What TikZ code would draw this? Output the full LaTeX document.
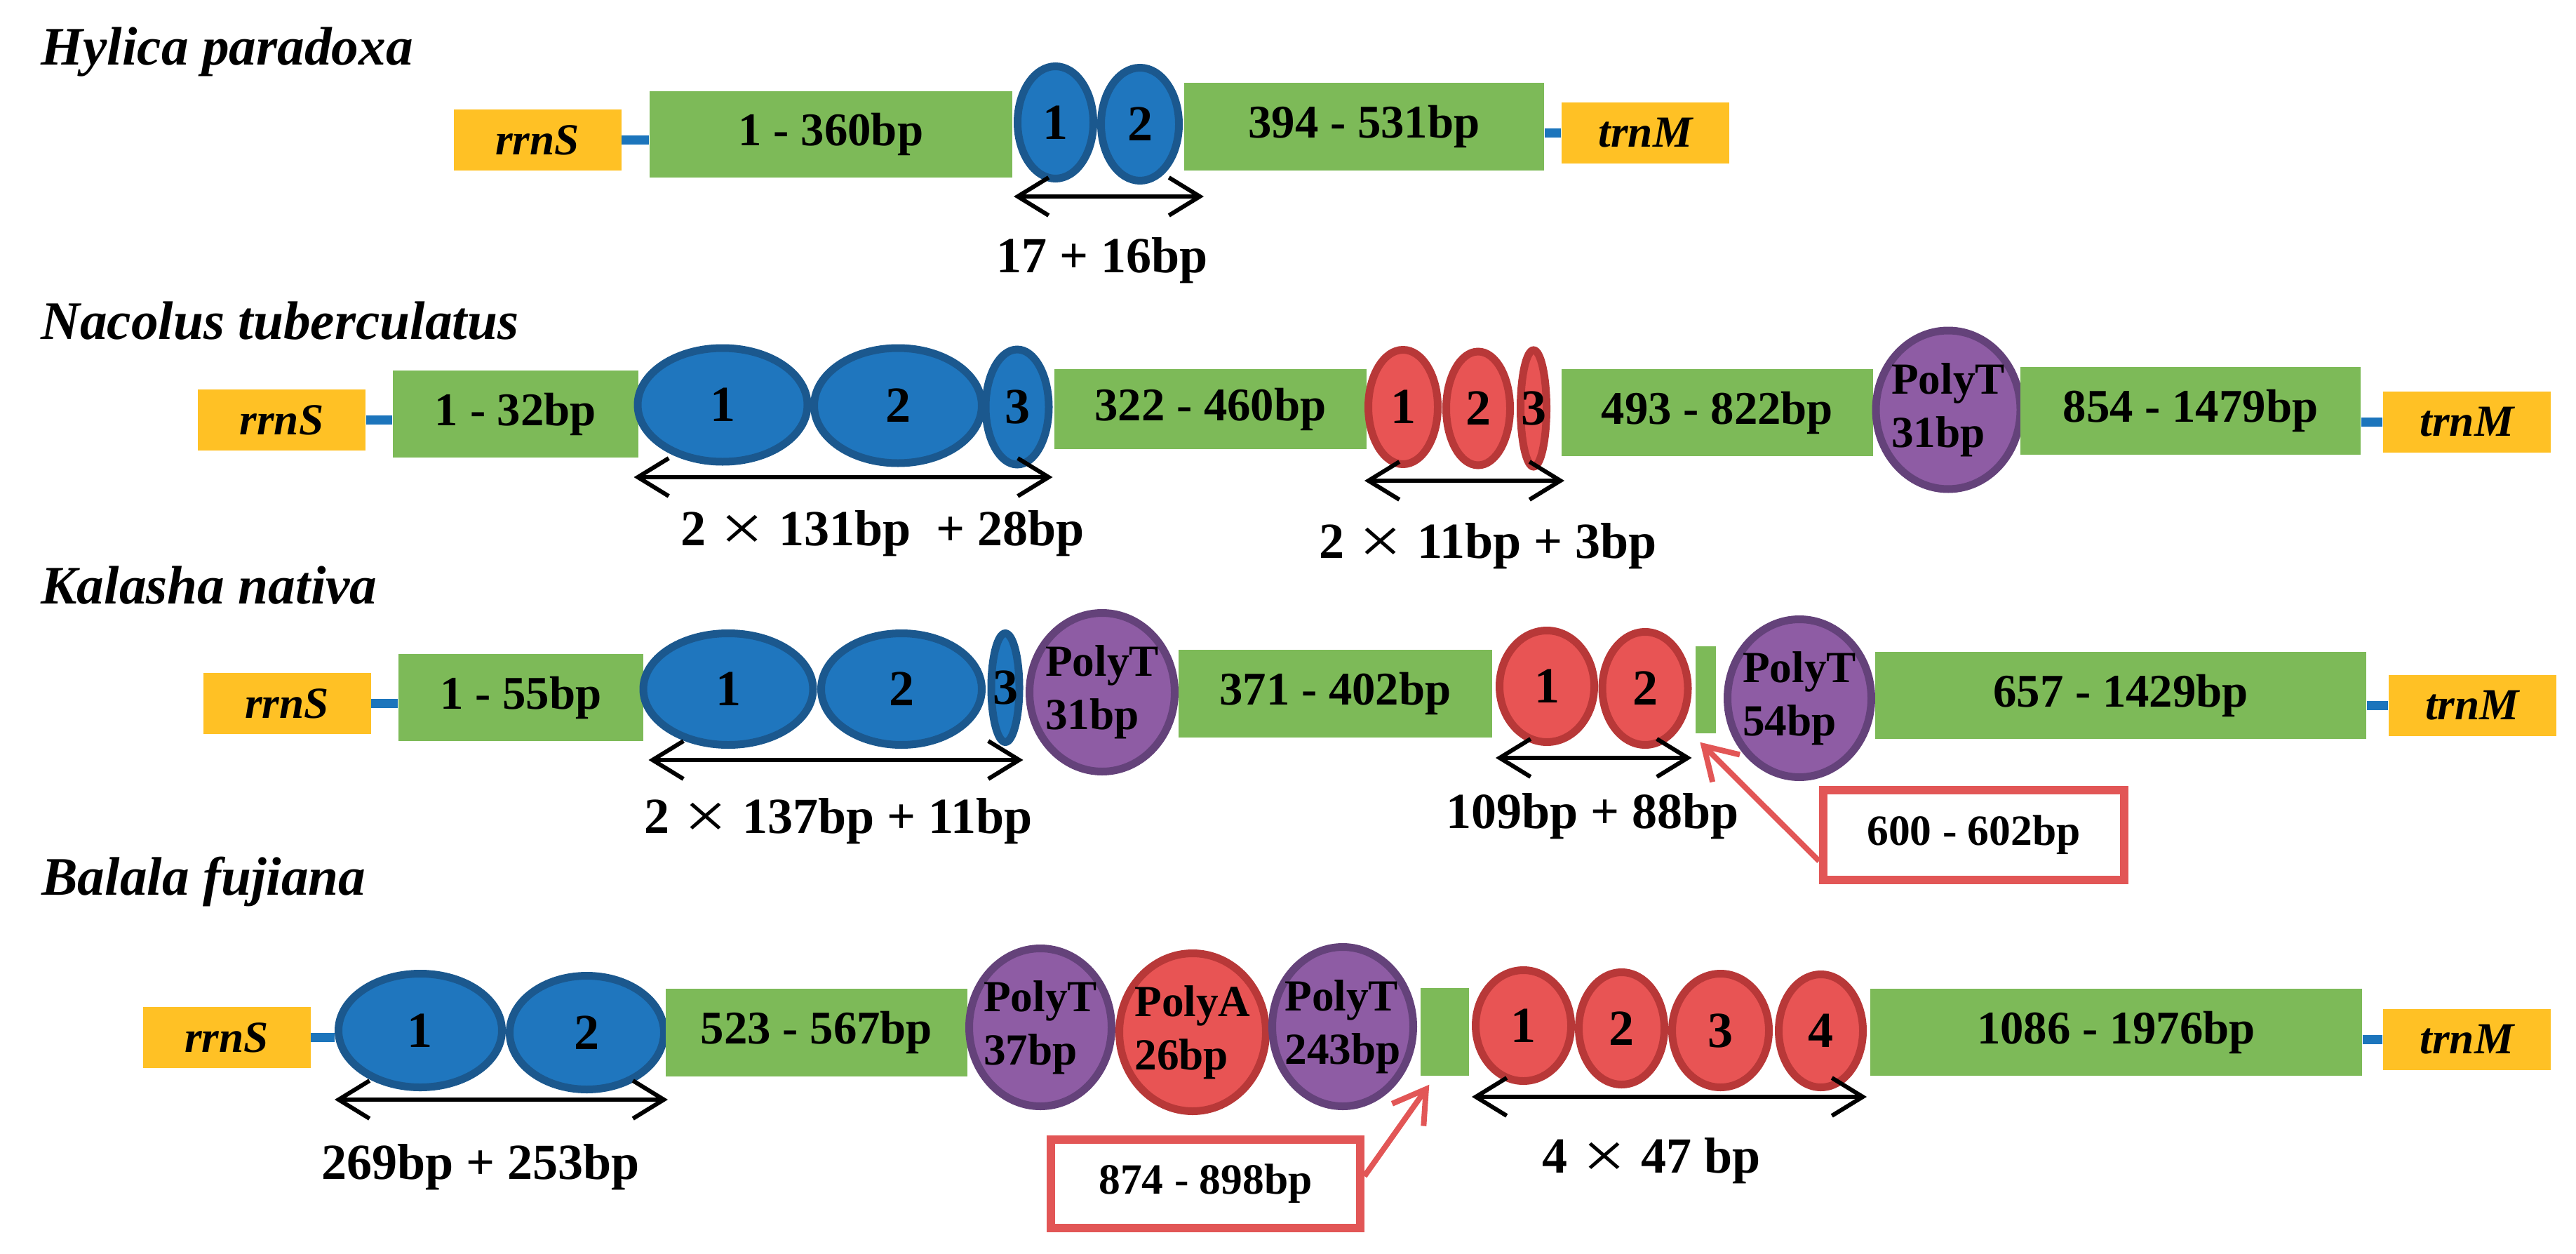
\documentclass[tikz,border=0pt]{standalone}
\usepackage{graphicx}
\usepackage{fontspec}
\setmainfont{Liberation Serif}
\usetikzlibrary{shapes.geometric,arrows.meta}

\definecolor{segGreen}{RGB}{125,186,88}
\definecolor{geneGold}{RGB}{255,193,37}
\definecolor{linkBlue}{RGB}{28,117,188}
\definecolor{repBlue}{RGB}{31,118,190}
\definecolor{repBlueDark}{RGB}{27,88,142}
\definecolor{repRed}{RGB}{232,84,84}
\definecolor{repRedDark}{RGB}{184,56,56}
\definecolor{repPurple}{RGB}{142,92,164}
\definecolor{repPurpleDark}{RGB}{100,66,122}
\definecolor{callRed}{RGB}{226,86,86}

\newcommand{\bytimes}{\hspace{0.3em}{\mdseries\raisebox{-0.1em}{\scalebox{1.5}[1.3]{×}}}\hspace{0.3em}}

\begin{document}
\begin{tikzpicture}[x=1cm, y=-1cm,
  species/.style={anchor=base west, font=\fontsize{22}{26}\selectfont\bfseries\itshape},
  gene/.style={rectangle, fill=geneGold, inner sep=0pt, minimum width=2.39cm, minimum height=0.87cm, font=\fontsize{18}{21}\selectfont\bfseries\itshape},
  seg/.style={rectangle, fill=segGreen, inner sep=0pt, font=\fontsize{19}{22}\selectfont\bfseries},
  rep/.style={ellipse, inner xsep=-6mm, inner ysep=0pt, line width=1.1mm, font=\fontsize{20.5}{24}\selectfont\bfseries},
  blue rep/.style={rep, fill=repBlue, draw=repBlueDark},
  red rep/.style={rep, fill=repRed, draw=repRedDark},
  poly/.style={rep, fill=repPurple, draw=repPurpleDark, align=left, font=\fontsize{18}{21.5}\selectfont\bfseries},
  link/.style={draw=linkBlue, line width=1.3mm},
  span/.style={{Straight Barb[length=4.4mm,width=5.4mm]}-{Straight Barb[length=4.4mm,width=5.4mm]}, line width=0.6mm},
  lab/.style={anchor=base, font=\fontsize{20.5}{24}\selectfont\bfseries},
  callout/.style={rectangle, draw=callRed, fill=white, line width=1.2mm, inner sep=0pt, font=\fontsize{17.5}{21}\selectfont\bfseries},
  pointer/.style={draw=callRed, line width=0.8mm, -{Straight Barb[length=4.5mm,width=5.5mm]}}]
  \useasboundingbox (0,0) rectangle (36.72,17.87);

  % Hylica paradoxa
  \node[species] (sp1) at (0.46,0.93) {Hylica paradoxa};
  \node[gene] (s1) at (7.66,1.995) {rrnS};
  \node[seg, minimum width=5.17cm, minimum height=1.23cm] (g11) at (11.845,1.915) {1 - 360bp};
  \node[blue rep, minimum width=1.08cm, minimum height=1.60cm] (b11) at (15.045,1.745) {1};
  \node[blue rep, minimum width=1.11cm, minimum height=1.61cm] (b12) at (16.25,1.77) {2};
  \node[seg, minimum width=5.13cm, minimum height=1.25cm] (g12) at (19.445,1.805) {394 - 531bp};
  \node[gene] (m1) at (23.455,1.895) {trnM};
  \draw[link] (s1.east) -- (s1.east -| g11.west);
  \draw[link] (g12.east |- m1.west) -- (m1.west);
  \draw[span, shorten >=-3mm] (b11.west |- 0,2.80) -- (b12.east |- 0,2.80);
  \node[lab] (l1) at (15.71,3.88) {17 + 16bp};

  % Nacolus tuberculatus
  \node[species] (sp2) at (0.46,4.83) {Nacolus tuberculatus};
  \node[gene] (s2) at (4.015,5.985) {rrnS};
  \node[seg, minimum width=3.50cm, minimum height=1.24cm] (g21) at (7.35,5.90) {1 - 32bp};
  \node[blue rep, minimum width=2.42cm, minimum height=1.62cm] (b21) at (10.30,5.77) {1};
  \node[blue rep, minimum width=2.39cm, minimum height=1.64cm] (b22) at (12.80,5.78) {2};
  \node[blue rep, minimum width=0.90cm, minimum height=1.64cm] (b23) at (14.50,5.80) {3};
  \node[seg, minimum width=4.45cm, minimum height=1.14cm] (g22) at (17.255,5.83) {322 - 460bp};
  \node[red rep, minimum width=0.99cm, minimum height=1.63cm] (r21) at (20.00,5.80) {1};
  \node[red rep, minimum width=0.91cm, minimum height=1.62cm] (r22) at (21.07,5.82) {2};
  \node[red rep, minimum width=0.37cm, minimum height=1.66cm] (r23) at (21.86,5.82) {3};
  \node[seg, minimum width=4.44cm, minimum height=1.24cm] (g23) at (24.48,5.88) {493 - 822bp};
  \node[poly, minimum width=2.06cm, minimum height=2.26cm] (p21) at (27.77,5.84) {PolyT\\31bp};
  \node[seg, minimum width=4.85cm, minimum height=1.25cm] (g24) at (31.225,5.855) {854 - 1479bp};
  \node[gene] (m2) at (35.165,6.01) {trnM};
  \draw[link] (s2.east) -- (s2.east -| g21.west);
  \draw[link] (g24.east |- m2.west) -- (m2.west);
  \draw[span] (b21.west |- 0,6.80) -- (b23.east |- 0,6.80);
  \draw[span, shorten >=-2mm] (r21.west |- 0,6.85) -- (r23.east |- 0,6.85);
  \node[lab] (l2) at (12.58,7.77) {2\bytimes 131bp\ \ + 28bp};
  \node[lab] (l3) at (21.21,7.95) {2\bytimes 11bp + 3bp};

  % Kalasha nativa
  \node[species] (sp3) at (0.46,8.60) {Kalasha nativa};
  \node[gene] (s3) at (4.09,10.025) {rrnS};
  \node[seg, minimum width=3.49cm, minimum height=1.24cm] (g31) at (7.425,9.94) {1 - 55bp};
  \node[blue rep, minimum width=2.42cm, minimum height=1.59cm] (b31) at (10.38,9.82) {1};
  \node[blue rep, minimum width=2.29cm, minimum height=1.59cm] (b32) at (12.85,9.82) {2};
  \node[blue rep, minimum width=0.40cm, minimum height=1.55cm] (b33) at (14.33,9.80) {3};
  \node[poly, minimum width=2.07cm, minimum height=2.26cm] (p31) at (15.71,9.865) {PolyT\\31bp};
  \node[seg, minimum width=4.47cm, minimum height=1.25cm] (g32) at (19.035,9.885) {371 - 402bp};
  \node[red rep, minimum width=1.35cm, minimum height=1.59cm] (r31) at (22.05,9.78) {1};
  \node[red rep, minimum width=1.22cm, minimum height=1.61cm] (r32) at (23.45,9.81) {2};
  \node[seg, minimum width=0.29cm, minimum height=1.24cm] (g33) at (24.315,9.83) {};
  \node[poly, minimum width=2.05cm, minimum height=2.25cm] (p32) at (25.65,9.95) {PolyT\\54bp};
  \node[seg, minimum width=7.00cm, minimum height=1.24cm] (g34) at (30.23,9.91) {657 - 1429bp};
  \node[gene] (m3) at (35.24,10.05) {trnM};
  \draw[link] (s3.east) -- (s3.east -| g31.west);
  \draw[link] (g34.east |- m3.west) -- (m3.west);
  \draw[span, shorten <=1.3mm] (b31.west |- 0,10.83) -- (b33.east |- 0,10.83);
  \draw[span] (r31.west |- 0,10.80) -- (r32.east |- 0,10.80);
  \node[lab] (l4) at (11.95,11.87) {2\bytimes 137bp + 11bp};
  \node[lab] (l5) at (22.70,11.80) {109bp + 88bp};
  \node[callout, minimum width=4.29cm, minimum height=1.28cm] (c3) at (28.135,11.90) {600 - 602bp};
  \draw[pointer] ([yshift=-0.37cm]c3.west) -- ([shift={(0.07,0.12)}]g33.south west);

  % Balala fujiana
  \node[species] (sp4) at (0.47,12.75) {Balala fujiana};
  \node[gene] (s4) at (3.23,14.785) {rrnS};
  \node[blue rep, minimum width=2.33cm, minimum height=1.62cm] (b41) at (5.99,14.685) {1};
  \node[blue rep, minimum width=2.20cm, minimum height=1.62cm] (b42) at (8.365,14.715) {2};
  \node[seg, minimum width=4.30cm, minimum height=1.25cm] (g41) at (11.64,14.715) {523 - 567bp};
  \node[poly, minimum width=2.03cm, minimum height=2.25cm] (p41) at (14.83,14.64) {PolyT\\37bp};
  \node[poly, fill=repRed, draw=repRedDark, minimum width=2.09cm, minimum height=2.25cm] (a41) at (17.00,14.71) {PolyA\\26bp};
  \node[poly, minimum width=2.01cm, minimum height=2.27cm] (p42) at (19.14,14.63) {PolyT\\243bp};
  \node[seg, minimum width=0.69cm, minimum height=1.25cm] (g42) at (20.595,14.705) {};
  \node[red rep, minimum width=1.36cm, minimum height=1.58cm] (r41) at (21.715,14.615) {1};
  \node[red rep, minimum width=1.22cm, minimum height=1.60cm] (r42) at (23.115,14.655) {2};
  \node[red rep, minimum width=1.38cm, minimum height=1.62cm] (r43) at (24.525,14.685) {3};
  \node[red rep, minimum width=1.20cm, minimum height=1.61cm] (r44) at (25.955,14.69) {4};
  \node[seg, minimum width=7.01cm, minimum height=1.24cm] (g43) at (30.165,14.71) {1086 - 1976bp};
  \node[gene] (m4) at (35.165,14.815) {trnM};
  \draw[link] (s4.east) -- (s4.east -| b41.west);
  \draw[link] (g43.east |- m4.west) -- (m4.west);
  \draw[span] (b41.west |- 0,15.67) -- (b42.east |- 0,15.67);
  \draw[span] (r41.west |- 0,15.63) -- (r44.east |- 0,15.63);
  \node[lab] (l6) at (6.85,16.80) {269bp + 253bp};
  \node[lab] (l7) at (23.54,16.71) {4\bytimes 47 bp};
  \node[callout, minimum width=4.41cm, minimum height=1.26cm] (c4) at (17.185,16.87) {874 - 898bp};
  \draw[pointer] ([yshift=0.11cm]c4.east) -- ([shift={(0.13,0.12)}]g42.south west);
\end{tikzpicture}
\end{document}
